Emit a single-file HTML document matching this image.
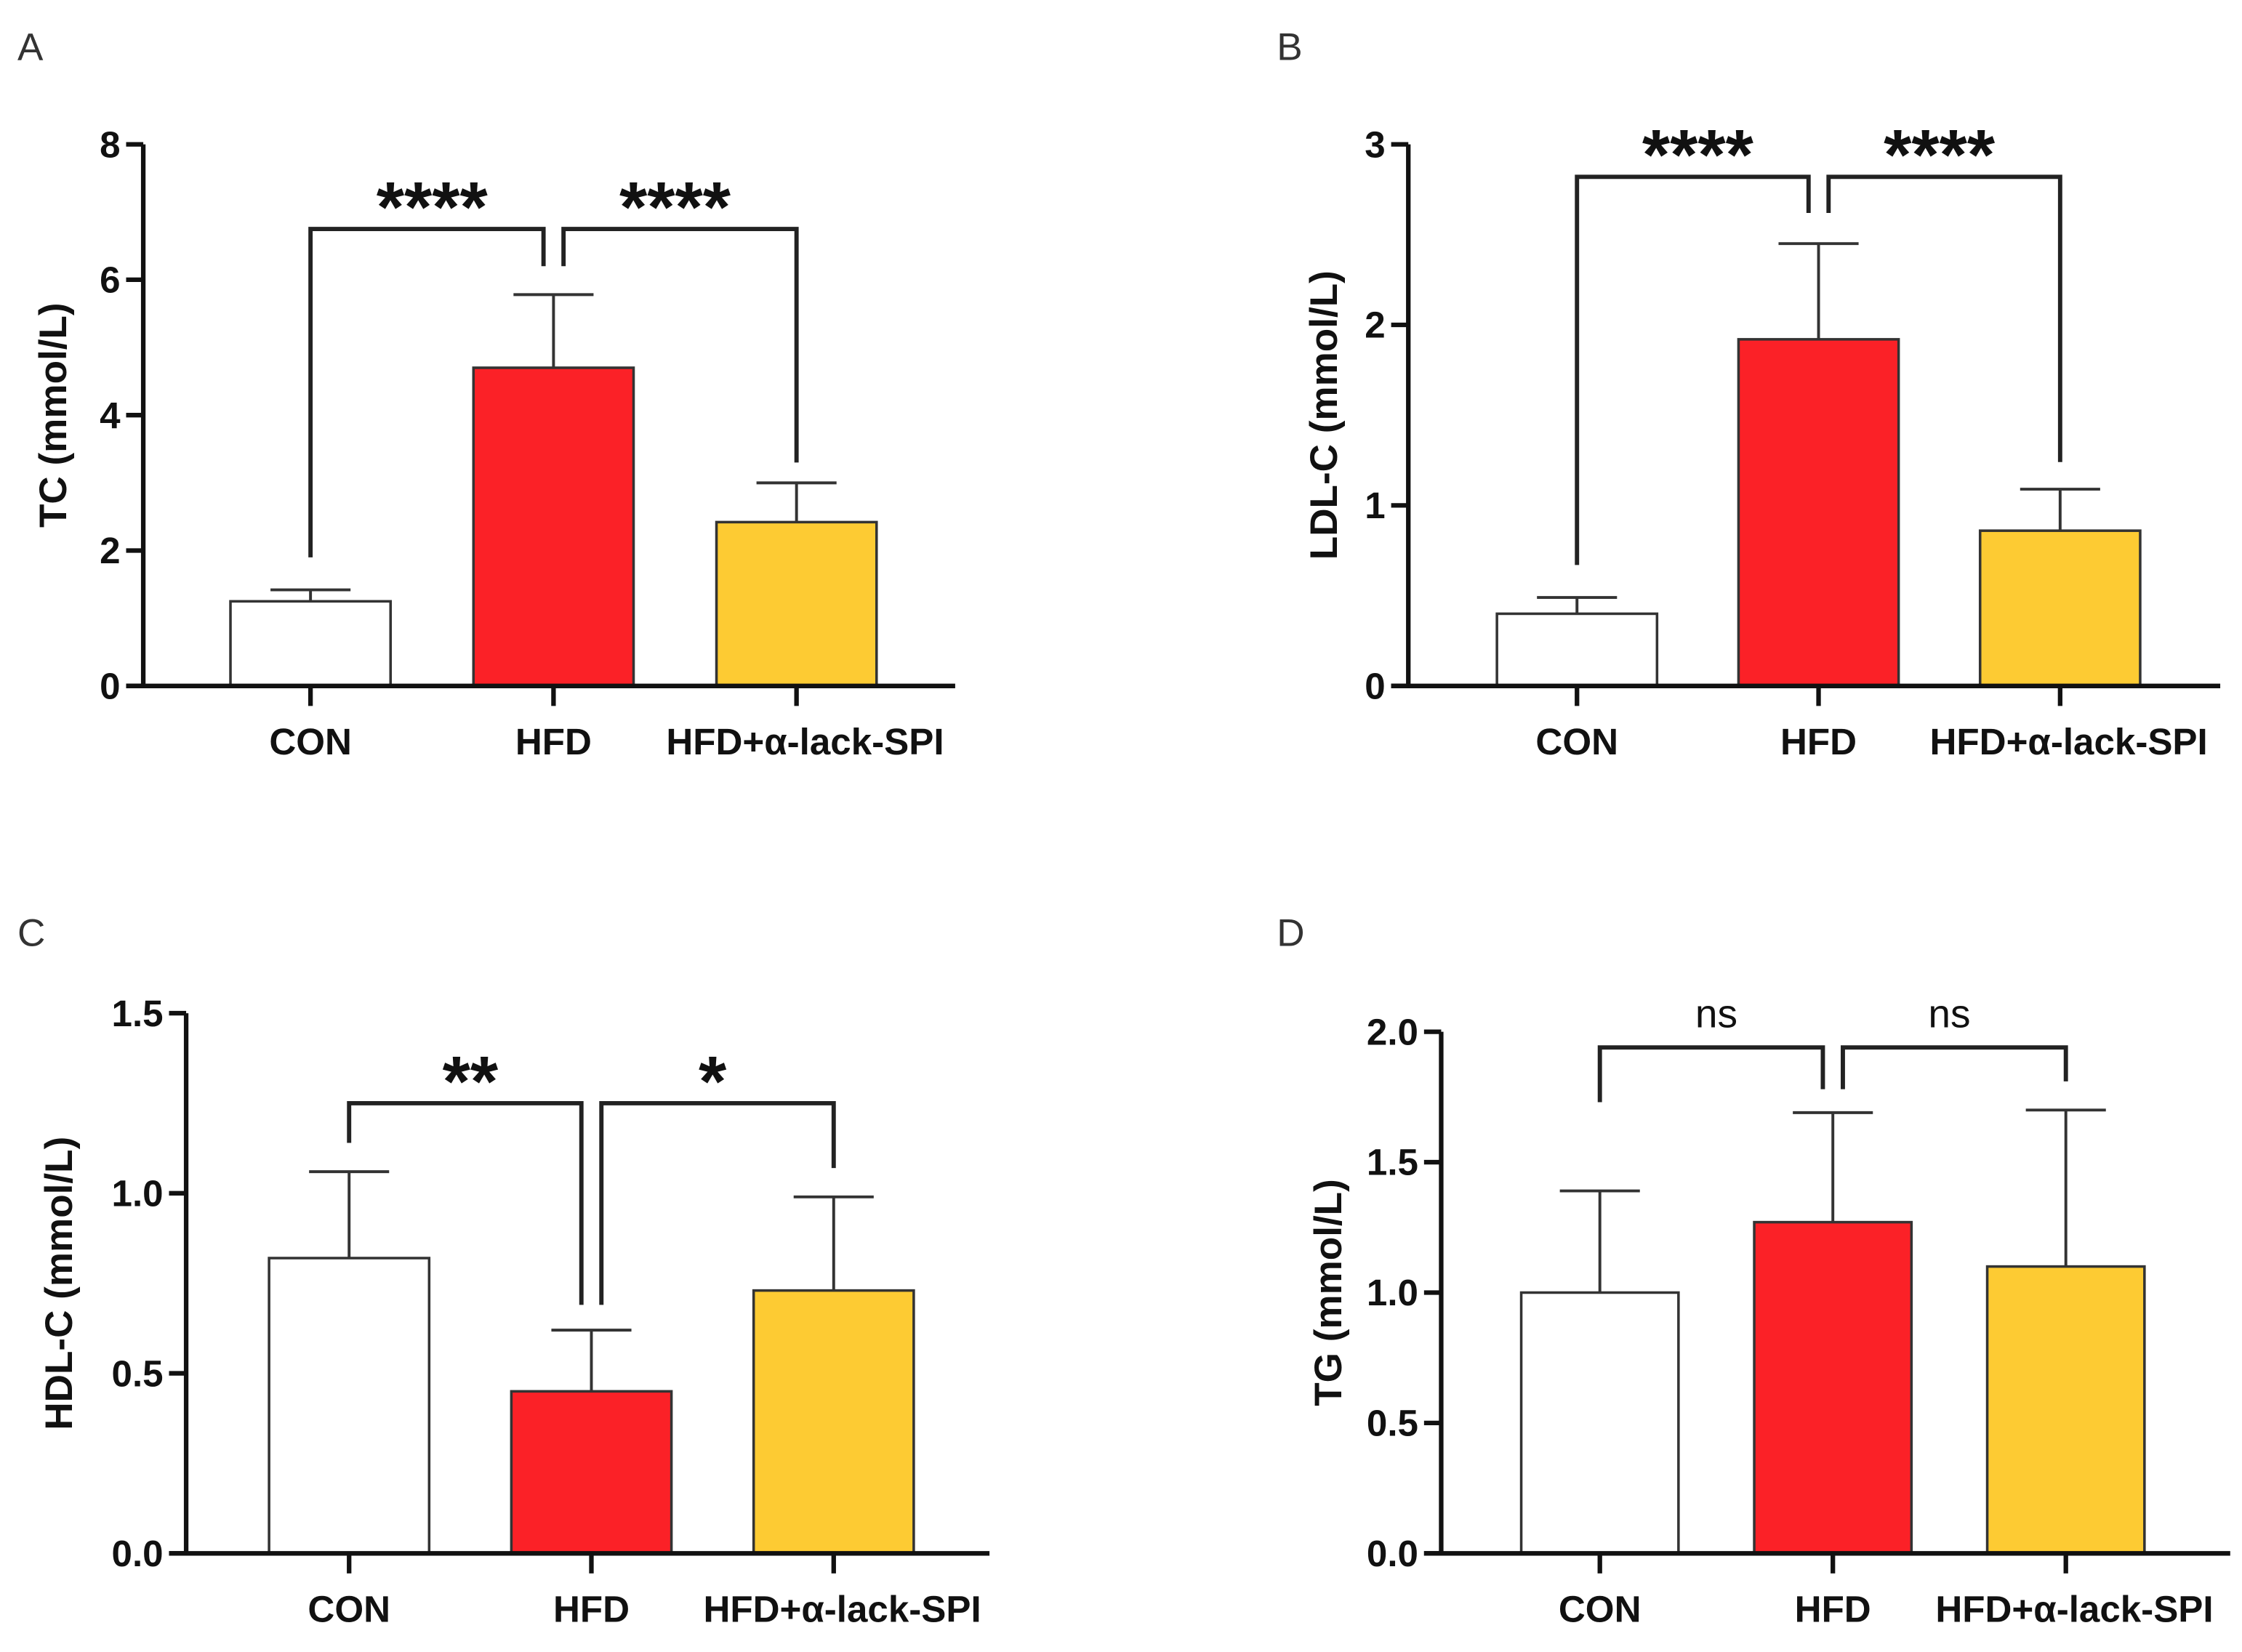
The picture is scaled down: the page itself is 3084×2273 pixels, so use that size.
<!DOCTYPE html>
<html><head><meta charset="utf-8">
<style>
html,body{margin:0;padding:0;background:#fff;}
svg{display:block;}
text{font-family:"Liberation Sans",Arial,sans-serif;}
</style></head>
<body>
<svg id="fig" width="3084" height="2273" viewBox="0 0 1568 1156" xmlns="http://www.w3.org/2000/svg"></svg>
<script>
// ---- data ----
const categories = ["CON", "HFD", "HFD+α-lack-SPI"];
const tcMeans = [1.25, 4.7, 2.42];
const tcErr = [1.42, 5.78, 3.0];
const tcTicks = [0, 2, 4, 6, 8];
const tcSig = ["****", "****"];
const ldlMeans = [0.4, 1.92, 0.86];
const ldlErr = [0.49, 2.45, 1.09];
const ldlTicks = [0, 1, 2, 3];
const ldlSig = ["****", "****"];
const hdlMeans = [0.82, 0.45, 0.73];
const hdlErr = [1.06, 0.62, 0.99];
const hdlTicks = [0.0, 0.5, 1.0, 1.5];
const hdlSig = ["**", "*"];
const tgMeans = [1.0, 1.27, 1.1];
const tgErr = [1.39, 1.69, 1.70];
const tgTicks = [0.0, 0.5, 1.0, 1.5, 2.0];
const tgSig = ["ns", "ns"];
const tcBracket = [6.75, 6.2, 3.3, 1.9];
const ldlBracket = [2.82, 2.62, 1.24, 0.67];
const hdlBracket = [1.25, 0.69, 1.07, 1.14];
const tgBracket = [1.94, 1.78, 1.81, 1.73];

const colors = ["#ffffff", "#fb2127", "#fdcb33"];
const NS = "http://www.w3.org/2000/svg";
const svg = document.getElementById("fig");

function el(tag, attrs, parent, txt) {
  const e = document.createElementNS(NS, tag);
  for (const k in attrs) e.setAttribute(k, attrs[k]);
  if (txt !== undefined) e.textContent = txt;
  (parent || svg).appendChild(e);
  return e;
}

function panel(cfg, means, errs, ticks, sig, br) {
  const g = el("g", {});
  
  
  const ymin = ticks[0], ymax = ticks[ticks.length - 1];
  const y = v => cfg.y0 - (v - ymin) / (ymax - ymin) * (cfg.y0 - cfg.yTop);
  const xc = i => cfg.c0 + i * cfg.step;
  const bw = cfg.bw;
  const L = el("text", {x: cfg.lx, y: cfg.ly, "font-size": 27, fill: "#333"}, g, cfg.letter);
  
  
  means.forEach((m, i) => {
    const r = el("rect", {x: xc(i) - bw / 2, y: y(m), width: bw, height: y(ymin) - y(m), fill: colors[i], stroke: "#333", "stroke-width": 1.8}, g);
    
    
    const e = el("path", {d: `M${xc(i)},${y(m)}V${y(errs[i])}M${xc(i) - 28},${y(errs[i])}H${xc(i) + 28}`, stroke: "#333", "stroke-width": 2, fill: "none"}, g);
    
    
  });
  const ax = el("path", {d: `M${cfg.ax},${cfg.yTop}V${cfg.y0}M${cfg.ax - 12},${cfg.y0}H${cfg.xEnd}`, stroke: "#111", "stroke-width": 3.2, fill: "none"}, g);
  
  
  ticks.forEach(t => {
    el("path", {d: `M${cfg.ax - 12},${y(t)}H${cfg.ax}`, stroke: "#111", "stroke-width": 3.2}, g);
    const tl = el("text", {x: cfg.ax - 16, y: y(t) + 9, "font-size": 26, "font-weight": "bold", "text-anchor": "end", fill: "#111"}, g, cfg.dec ? t.toFixed(1) : String(t));
    
    
  });
  categories.forEach((c, i) => {
    el("path", {d: `M${xc(i)},${cfg.y0}V${cfg.y0 + 14}`, stroke: "#111", "stroke-width": 3.2}, g);
    const cl = el("text", {x: xc(i) + (i === 2 ? 6 : 0), y: cfg.y0 + 48, "font-size": 26, "font-weight": "bold", "text-anchor": "middle", fill: "#111"}, g, c);
    
    
  });
  const yt = el("text", {x: 0, y: 0, "font-size": 27, "font-weight": "bold", "text-anchor": "middle", fill: "#111", transform: `translate(${cfg.tx},${(cfg.y0 + cfg.yTop) / 2}) rotate(-90)`}, g, cfg.title);
  
  
  const top = y(br[0]), hl = y(br[1]);
  const b1 = el("path", {d: `M${xc(0)},${y(br[3])}V${top}H${xc(1) - 7}V${hl}`, stroke: "#222", "stroke-width": 3, fill: "none"}, g);
  
  
  const b2 = el("path", {d: `M${xc(1) + 7},${hl}V${top}H${xc(2)}V${y(br[2])}`, stroke: "#222", "stroke-width": 3, fill: "none"}, g);
  
  
  sig.forEach((s, k) => {
    const isNs = s === "ns";
    const cx = (xc(k) + xc(k + 1)) / 2;
    const st = el("text", {x: cx, y: isNs ? top - 14 : top + 2, "font-size": isNs ? 28 : 50, "font-weight": isNs ? "normal" : "bold", "text-anchor": "middle", fill: "#111"}, g, s);
    
    
  });
}

panel({name: "panel-a-tc", letter: "A", lx: 12, ly: 42, ax: 100, yTop: 101, y0: 480, xEnd: 668, c0: 217, step: 170, bw: 112, tx: 46, title: "TC (mmol/L)", dec: false}, tcMeans, tcErr, tcTicks, tcSig, tcBracket);
panel({name: "panel-b-ldl", letter: "B", lx: 893, ly: 42, ax: 985, yTop: 101, y0: 480, xEnd: 1553, c0: 1103, step: 169, bw: 112, tx: 935, title: "LDL-C (mmol/L)", dec: false}, ldlMeans, ldlErr, ldlTicks, ldlSig, ldlBracket);
panel({name: "panel-c-hdl", letter: "C", lx: 12, ly: 662, ax: 130, yTop: 709, y0: 1087, xEnd: 692, c0: 244, step: 169.5, bw: 112, tx: 50, title: "HDL-C (mmol/L)", dec: true}, hdlMeans, hdlErr, hdlTicks, hdlSig, hdlBracket);
panel({name: "panel-d-tg", letter: "D", lx: 893, ly: 662, ax: 1008, yTop: 722, y0: 1087, xEnd: 1560, c0: 1119, step: 163, bw: 110, tx: 938, title: "TG (mmol/L)", dec: true}, tgMeans, tgErr, tgTicks, tgSig, tgBracket);
</script>
</body></html>
